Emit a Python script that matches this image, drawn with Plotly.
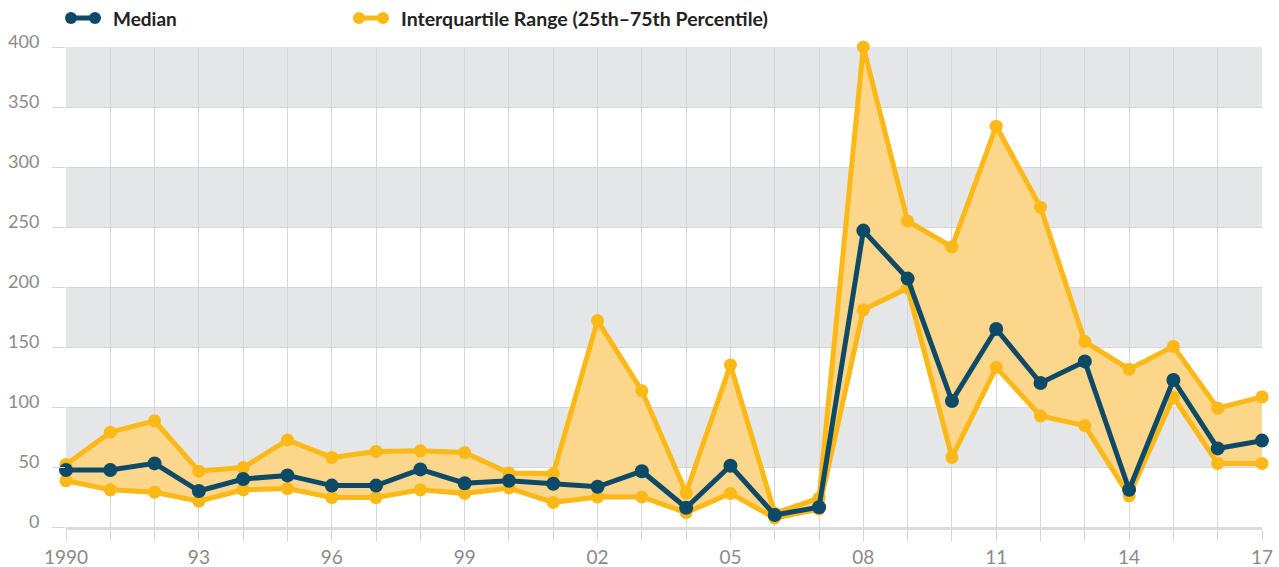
import plotly.graph_objects as go

years = list(range(1990, 2018))
median = [47.5, 47.5, 53, 30, 40, 43, 34.5, 34.5, 48, 36.5, 38.5, 36, 33.5,
          46.5, 16, 51, 10, 16.5, 247, 207, 105, 165, 120, 138, 31, 122.5, 65.5, 72]
p75 = [52, 79, 88.5, 46.5, 49.5, 72.5, 58, 63, 63.5, 62, 45, 44.5, 172,
       113.5, 28.5, 135, 11.5, 24, 400, 255, 233.5, 334, 266.5, 154.5, 131.5, 150.5, 99, 108.5]
p25 = [38.5, 31, 29, 21.5, 31, 32, 24.5, 24.5, 31, 28, 32.5, 20.5, 25,
       25, 12, 28, 7.5, 15, 181, 199, 58, 133, 92.5, 84.5, 26, 108, 53, 53]
tick_vals = years
tick_text = ["1990" if y == 1990 else (f"{y % 100:02d}" if (y - 1990) % 3 == 0 else "") for y in years]
y_ticks = [0, 50, 100, 150, 200, 250, 300, 350, 400]
bands = [(50, 100), (150, 200), (250, 300), (350, 400)]

YELLOW = "#FBB817"
FILL = "#FCD68A"
BLUE = "#0C4A67"
GRID = "#D6D6D9"
BAND = "#E5E6E8"
FONT = "Lato"

fig = go.Figure()
fig.add_trace(go.Scatter(x=years, y=p25, mode="lines+markers",
                         line=dict(color=YELLOW, width=5),
                         marker=dict(color=YELLOW, size=13),
                         cliponaxis=False, showlegend=False))
fig.add_trace(go.Scatter(x=years, y=p75, mode="lines+markers", fill="tonexty",
                         fillcolor=FILL,
                         line=dict(color=YELLOW, width=5),
                         marker=dict(color=YELLOW, size=13),
                         cliponaxis=False, showlegend=False))
fig.add_trace(go.Scatter(x=years, y=median, mode="lines+markers",
                         line=dict(color=BLUE, width=5),
                         marker=dict(color=BLUE, size=14),
                         cliponaxis=False, showlegend=False))

shapes = []
for lo, hi in bands:
    shapes.append(dict(type="rect", xref="paper", yref="y", x0=0, x1=1, y0=lo, y1=hi,
                       fillcolor=BAND, line=dict(width=0), layer="below"))

W, H = 1196.0, 480.0
LEG_Y = 1 + 29 / H

# custom legend (dumbbell icons)
def legend_icon(px0, px1, color):
    out = [dict(type="line", xref="paper", yref="paper",
                x0=(px0 - 66) / W, x1=(px1 - 66) / W, y0=LEG_Y, y1=LEG_Y,
                line=dict(color=color, width=5))]
    for px in (px0, px1):
        out.append(dict(type="circle", xref="paper", yref="paper",
                        xsizemode="pixel", ysizemode="pixel",
                        xanchor=(px - 66) / W, yanchor=LEG_Y,
                        x0=-6, x1=6, y0=-6, y1=6,
                        fillcolor=color, line=dict(width=0)))
    return out

shapes += legend_icon(71, 95, BLUE)
shapes += legend_icon(359, 383, YELLOW)

annotations = [
    dict(text="<b>Median</b>", xref="paper", yref="paper", x=(111 - 66) / W,
         y=LEG_Y, xanchor="left", yanchor="middle", showarrow=False,
         font=dict(family=FONT, size=19, color="#222222")),
    dict(text="<b>Interquartile Range (25th\u201375th Percentile)</b>", xref="paper", yref="paper",
         x=(399 - 66) / W, y=LEG_Y, xanchor="left", yanchor="middle",
         showarrow=False, font=dict(family=FONT, size=19.5, color="#222222")),
]

fig.update_layout(
    width=1279, height=567, autosize=False,
    margin=dict(l=66, r=17, t=47, b=40),
    plot_bgcolor="white", paper_bgcolor="white",
    shapes=shapes, annotations=annotations,
    font=dict(family=FONT, color="#888888", size=18),
    xaxis=dict(range=[1990, 2017], tickvals=tick_vals, ticktext=tick_text,
               showgrid=True, gridcolor=GRID, gridwidth=1,
               ticks="outside", ticklen=11, tickcolor=GRID, tickwidth=1,
               showline=True, linecolor="#DCDCDC", linewidth=3,
               zeroline=False, tickfont=dict(size=19, color="#8A8A8A"),
               automargin=False, fixedrange=True),
    yaxis=dict(range=[0, 400], tickvals=y_ticks, showgrid=True, gridcolor=GRID,
               gridwidth=1, ticks="outside", ticklen=13, tickcolor=GRID,
               zeroline=False, showline=False,
               tickfont=dict(size=18, color="#8A8A8A"),
               ticklabelshift=-5, ticklabelstandoff=9,
               automargin=False, fixedrange=True),
)

fig.write_html("out.html", config={"displayModeBar": False},
               post_script="document.body.style.margin='0px';document.body.style.overflow='hidden';")
